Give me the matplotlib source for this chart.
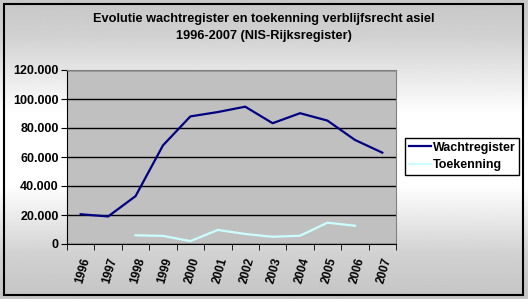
import numpy as np
import matplotlib
matplotlib.use("Agg")
import matplotlib.pyplot as plt
from matplotlib.patches import Rectangle

years = ['1996', '1997', '1998', '1999', '2000', '2001',
         '2002', '2003', '2004', '2005', '2006', '2007']
wachtregister = [20500, 19000, 33000, 68000, 88000, 91000,
                 94700, 83300, 90200, 85100, 71800, 63000]
toekenning = [np.nan, np.nan, 6000, 5600, 2000, 9700,
              6900, 5000, 5700, 14700, 12600, np.nan]
yticks = [0, 20000, 40000, 60000, 80000, 100000, 120000]
ytick_labels = ['0', '20.000', '40.000', '60.000', '80.000', '100.000', '120.000']

plt.rcParams['font.family'] = ['Liberation Sans', 'DejaVu Sans']
plt.rcParams['font.weight'] = 'bold'

W, H = 528, 299
fig = plt.figure(figsize=(W / 100, H / 100), dpi=100)

# background gradient (gray - white - gray)
bg = fig.add_axes([0, 0, 1, 1], zorder=-10)
yy = np.linspace(0, 1, 300)
g = np.interp(yy, [0, 0.12, 0.38, 0.62, 0.85, 1], [0.78, 0.82, 1.0, 1.0, 0.82, 0.77])
bg.imshow(np.tile(g[:, None], (1, 2)), cmap='gray', vmin=0, vmax=1,
          aspect='auto', extent=[0, 1, 0, 1], origin='upper')
bg.set_xlim(0, 1)
bg.set_ylim(0, 1)
bg.axis('off')
bg.add_patch(Rectangle((4 / W, 1 - 295 / H), 519 / W, 291 / H, fill=False,
                       edgecolor='black', linewidth=1.5, transform=bg.transAxes))

fig.text(0.5, 1 - 19 / H, 'Evolutie wachtregister en toekenning verblijfsrecht asiel',
         ha='center', va='center', fontsize=9.2, fontweight='bold')
fig.text(0.5, 1 - 36 / H, '1996-2007 (NIS-Rijksregister)',
         ha='center', va='center', fontsize=9.2, fontweight='bold')

left, right, top, bottom = 67, 396, 70, 244
ax = fig.add_axes([left / W, 1 - bottom / H, (right - left) / W, (bottom - top) / H])
ax.set_facecolor('#c0c0c0')

x = np.arange(len(years))
ax.plot(x, wachtregister, color='#000080', linewidth=1.6, label='Wachtregister')
ax.plot(x, toekenning, color='#ccffff', linewidth=1.6, label='Toekenning')

ax.set_xlim(-0.5, len(years) - 0.5)
ax.set_ylim(0, 120000)
ax.set_yticks(yticks)
ax.set_yticklabels(ytick_labels, fontsize=9, fontweight='bold')
ax.tick_params(axis='y', pad=2)
ax.yaxis.grid(True, color='black', linewidth=1)
ax.set_axisbelow(True)

ax.set_xticks(x)
ax.set_xticklabels(years, fontsize=8.5, fontweight='bold', rotation=74,
                   ha='right', va='top', rotation_mode='anchor')
ax.tick_params(axis='x', length=0, pad=9)
ax.set_xticks(np.arange(-0.5, len(years), 1), minor=True)
ax.tick_params(axis='x', which='minor', length=4, direction='out', color='black')
ax.tick_params(axis='y', length=4, direction='out', color='black')

ax.spines['left'].set_color('black')
ax.spines['bottom'].set_color('black')
ax.spines['top'].set_color('#808080')
ax.spines['right'].set_color('#808080')

leg = fig.legend(loc='upper left', bbox_to_anchor=(405 / W, 1 - 138 / H),
                 fontsize=9, frameon=True, fancybox=False, edgecolor='black',
                 handlelength=1.8, handletextpad=0.1, borderpad=0.3,
                 labelspacing=0.45, borderaxespad=0)
leg.get_frame().set_linewidth(1)
leg.get_frame().set_facecolor('white')
leg.get_frame().set_alpha(1)

fig.savefig('out.png', dpi=100)
